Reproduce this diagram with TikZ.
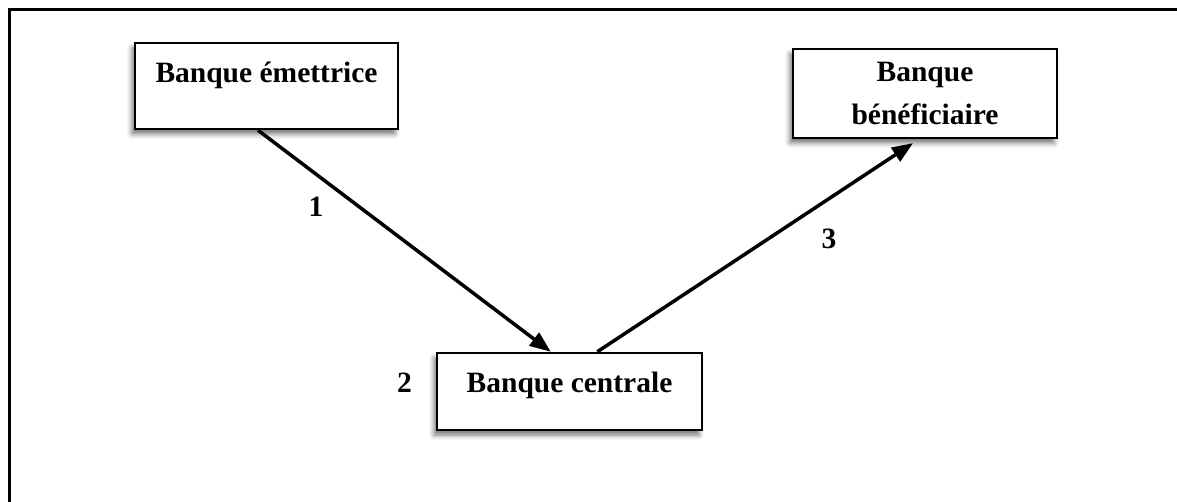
\documentclass[tikz,border=0pt]{standalone}
\usepackage{fontspec}
\setmainfont{Liberation Serif}
\usetikzlibrary{calc,arrows.meta,shadows.blur}
\begin{document}
\begin{tikzpicture}[x=1pt,y=-1pt]
            \tikzstyle{bank node}=[draw,line width=2.5pt,fill=white,inner sep=0,font=\fontsize{29.5}{43}\selectfont\bfseries,blur shadow={shadow xshift=-3pt,shadow yshift=-5pt,shadow blur radius=5pt,shadow opacity=55}];
            \tikzstyle{num node}=[anchor=base,font=\fontsize{29.5}{34}\selectfont\bfseries];
            \tikzstyle{flow}=[line width=3.5pt,-{Triangle[length=21pt,width=16pt]}];
            \useasboundingbox (0,0) rectangle (1177,502);
            \draw[line width=3pt] (9,502)--(9,10)--(1177,10);
            \node[bank node,anchor=base,minimum width=263pt,text height=40pt,text depth=46pt] (emettrice) at (266.5,83) {Banque émettrice};
            \node[bank node,align=center,minimum width=264pt,minimum height=89pt] (beneficiaire) at (925,93.5) {Banque\\bénéficiaire};
            \node[bank node,anchor=base,minimum width=265pt,text height=39pt,text depth=38pt] (centrale) at (569.5,392) {Banque centrale};
            \node[num node] (n1) at (316,217) {1};
            \node[num node] (n2) at (404.5,392) {2};
            \node[num node] (n3) at (829,249) {3};
            \coordinate (e1) at ($(emettrice.south west)!0.468!(emettrice.south east)$);
            \coordinate (c1) at ($(centrale.north west)!0.43!(centrale.north east)$);
            \coordinate (c2) at ($(centrale.north west)!0.604!(centrale.north east)$);
            \coordinate (b1) at ($(beneficiaire.south west)!0.477!(beneficiaire.south east)$);
            \draw[flow] (e1)--(c1);
            \draw[flow,shorten >=7pt] (c2)--(b1);
\end{tikzpicture}
\end{document}
